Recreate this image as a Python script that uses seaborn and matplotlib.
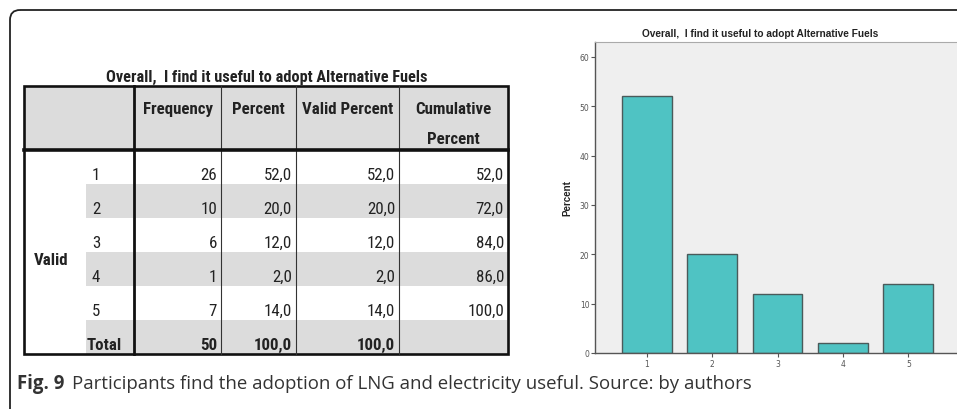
import matplotlib
matplotlib.use("Agg")
import matplotlib.pyplot as plt
from matplotlib import font_manager
from matplotlib.patches import Rectangle, FancyBboxPatch
import seaborn as sns

# data
categories = ["1", "2", "3", "4", "5"]
frequency = [26, 10, 6, 1, 7]
percent = [52.0, 20.0, 12.0, 2.0, 14.0]
valid_percent = [52.0, 20.0, 12.0, 2.0, 14.0]
cumulative = [52.0, 72.0, 84.0, 86.0, 100.0]
total_freq = 50
total_pct = 100.0
title = "Overall,  I find it useful to adopt Alternative Fuels"
caption_bold = "Fig. 9"
caption_rest = "Participants find the adoption of LNG and electricity useful. Source: by authors"

# SPSS tables use Arial Narrow; pick the narrowest family we have
installed = {f.name for f in font_manager.fontManager.ttflist}
if "Liberation Sans Narrow" in installed:
    NARROW, scale = ["Liberation Sans Narrow", "DejaVu Sans"], 1.0
elif "Roboto Condensed" in installed:
    NARROW, scale = ["Roboto Condensed", "DejaVu Sans"], 1.06
else:
    NARROW, scale = ["Liberation Sans", "DejaVu Sans"], 0.87
TEXT = "#222222"
GREY = "#dcdcdc"
FS = 11.5 * scale


def fmt(v):
    return f"{v:.1f}".replace(".", ",")


W, H = 957, 410
fig = plt.figure(figsize=(W / 100, H / 100), dpi=100)

# pixel canvas for the table and caption
cv = fig.add_axes([0, 0, 1, 1])
cv.set_xlim(0, W)
cv.set_ylim(H, 0)
cv.axis("off")

# rounded panel frame
cv.add_patch(FancyBboxPatch((10, 11), 980, 430, boxstyle="round,pad=0,rounding_size=10",
                            fill=False, ec="#222222", lw=1.3))

# ---- frequency table ----
cols = [24, 86, 134, 221, 296, 399, 508]
top, head_bot = 87, 151
row_h = 34
n_rows = len(categories) + 1
bot = head_bot + row_h * n_rows

cv.text(267, 82, title, ha="center", va="baseline",
        fontsize=11 * scale, fontweight="bold", family=NARROW, color=TEXT)

cv.add_patch(Rectangle((cols[0], top), cols[-1] - cols[0], head_bot - top, fc=GREY, ec="none"))
for i in range(n_rows):
    if i % 2 == 1:
        y0 = head_bot + i * row_h
        cv.add_patch(Rectangle((cols[1], y0), cols[-1] - cols[1], row_h, fc=GREY, ec="none"))

for x in cols[3:-1]:
    cv.plot([x, x], [top, bot], color="#333333", lw=0.8)
cv.plot([cols[2], cols[2]], [top, bot], color="#111111", lw=2.0)
cv.plot([cols[0], cols[-1]], [head_bot, head_bot], color="#111111", lw=2.6)
cv.add_patch(Rectangle((cols[0], top), cols[-1] - cols[0], bot - top, fill=False, ec="#111111", lw=1.9))

headers = [["Frequency"], ["Percent"], ["Valid Percent"], ["Cumulative", "Percent"]]
for j, lines in enumerate(headers):
    cx = (cols[j + 2] + cols[j + 3]) / 2
    for k, s in enumerate(lines):
        cv.text(cx, 114 + 30 * k, s, ha="center", va="baseline", fontsize=FS,
                fontweight="bold", family=NARROW, color=TEXT)

pad = 4
for i, cat in enumerate(categories):
    yb = head_bot + (i + 1) * row_h - 5
    cv.text(cols[1] + 6, yb, cat, ha="left", va="baseline", fontsize=FS, family=NARROW, color=TEXT)
    vals = [str(frequency[i]), fmt(percent[i]), fmt(valid_percent[i]), fmt(cumulative[i])]
    for j, s in enumerate(vals):
        cv.text(cols[j + 3] - pad, yb, s, ha="right", va="baseline", fontsize=FS,
                family=NARROW, color=TEXT)

yb = bot - 5
cv.text(cols[1] + 1, yb, "Total", ha="left", va="baseline", fontsize=FS, fontweight="bold",
        family=NARROW, color=TEXT)
for j, s in enumerate([str(total_freq), fmt(total_pct), fmt(total_pct)]):
    cv.text(cols[j + 3] - pad, yb, s, ha="right", va="baseline", fontsize=FS, fontweight="bold",
            family=NARROW, color=TEXT)
cv.text(34, 265, "Valid", ha="left", va="baseline", fontsize=FS, fontweight="bold",
        family=NARROW, color=TEXT)

# caption
cv.text(17, 389, caption_bold, ha="left", va="baseline", fontsize=13.4, fontweight="bold",
        family=["Open Sans", "DejaVu Sans"], color="#333333")
cv.text(72, 389, caption_rest, ha="left", va="baseline", fontsize=13.4,
        family=["Open Sans", "DejaVu Sans"], color="#333333")

# ---- bar chart ----
ax_l, ax_r, ax_t, ax_b = 595, 960, 43, 354
ax = fig.add_axes([ax_l / W, 1 - ax_b / H, (ax_r - ax_l) / W, (ax_b - ax_t) / H])
ax.set_facecolor("#efefef")
sns.barplot(x=categories, y=percent, color="#4fc3c3", saturation=1, edgecolor="#4a5a5a",
            linewidth=1.0, width=0.76, ax=ax)
ax.set_xlim(-0.79, 4.79)
ax.set_ylim(0, 63)
ax.set_yticks([0, 10, 20, 30, 40, 50, 60])
ax.tick_params(axis="both", labelsize=5.5, labelcolor="#555555", color="#555555",
               length=3, width=0.8, pad=1)
ax.set_xlabel("")
ax.set_ylabel("Percent", fontsize=7, fontweight="bold", family=["Liberation Sans", "DejaVu Sans"],
              color="#222222")
ax.yaxis.set_label_coords(-0.063, 0.5)
for side in ["left", "bottom"]:
    ax.spines[side].set_color("#555555")
    ax.spines[side].set_linewidth(1.0)
ax.spines["top"].set_color("#aaaaaa")
ax.spines["right"].set_visible(False)
ax.text((760 - ax_l) / (ax_r - ax_l), 1.012, title, transform=ax.transAxes, ha="center",
        va="bottom", fontsize=7.3, fontweight="bold", family=["Liberation Sans", "DejaVu Sans"],
        color="#222222")

fig.savefig("out.png", dpi=100, facecolor="white")
